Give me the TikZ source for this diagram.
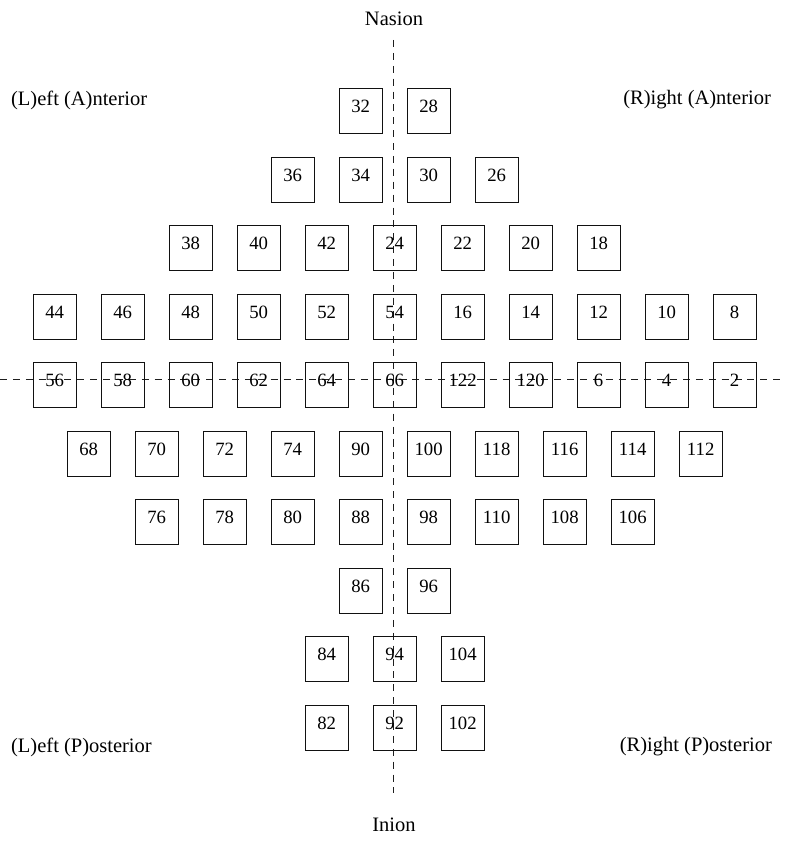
\documentclass[tikz,border=0pt]{standalone}
\usepackage{fontspec}
\setmainfont{Liberation Serif}
\usepackage{xcolor}
\usepackage{tikz}
\definecolor{EEGInk}{HTML}{111111}
\definecolor{EEGGuide}{HTML}{1E1E1E}

\begin{document}
\begin{tikzpicture}[x=1cm,y=1cm,
  elec/.style={draw=EEGInk,line width=0.9pt,minimum width=1.29cm,minimum height=1.35cm,inner sep=0pt,
    text height=10.8pt,text depth=8.5pt,font=\fontsize{16}{19}\selectfont},
  axis/.style={draw=EEGGuide,line width=0.7pt,dash pattern=on 6pt off 5pt},
  side/.style={font=\fontsize{17.5}{21}\selectfont}]
\path[use as bounding box] (0,0) rectangle (23.55,25.44);
% midline and ear line
\coordinate (nasionEnd) at (11.81,24.24);
\coordinate (inionEnd) at (11.81,1.65);
\coordinate (leftEnd) at (0,14.06);
\coordinate (rightEnd) at (23.55,14.06);
\draw[axis] (nasionEnd) -- (inionEnd);
\draw[axis] (leftEnd) -- (rightEnd);
\node[side] (nasion) at (11.82,24.87) {Nasion};
\node[side] (inion) at (11.82,0.69) {Inion};
\node[side,anchor=west] (la) at (0.21,22.44) {(L)eft (A)nterior};
\node[side,anchor=east] (ra) at (23.25,22.44) {(R)ight (A)nterior};
\node[side,anchor=west] (lp) at (0.21,3.03) {(L)eft (P)osterior};
\node[side,anchor=east] (rp) at (23.28,3.03) {(R)ight (P)osterior};
% electrodes
\node[elec] (e32) at (10.82,22.10) {32};
\node[elec] (e28) at (12.86,22.10) {28};
\node[elec] (e36) at (8.78,20.04) {36};
\node[elec] (e34) at (10.82,20.04) {34};
\node[elec] (e30) at (12.86,20.04) {30};
\node[elec] (e26) at (14.90,20.04) {26};
\node[elec] (e38) at (5.72,17.99) {38};
\node[elec] (e40) at (7.76,17.99) {40};
\node[elec] (e42) at (9.80,17.99) {42};
\node[elec] (e24) at (11.84,17.99) {24};
\node[elec] (e22) at (13.88,17.99) {22};
\node[elec] (e20) at (15.92,17.99) {20};
\node[elec] (e18) at (17.96,17.99) {18};
\node[elec] (e44) at (1.64,15.93) {44};
\node[elec] (e46) at (3.68,15.93) {46};
\node[elec] (e48) at (5.72,15.93) {48};
\node[elec] (e50) at (7.76,15.93) {50};
\node[elec] (e52) at (9.80,15.93) {52};
\node[elec] (e54) at (11.84,15.93) {54};
\node[elec] (e16) at (13.88,15.93) {16};
\node[elec] (e14) at (15.92,15.93) {14};
\node[elec] (e12) at (17.96,15.93) {12};
\node[elec] (e10) at (20.00,15.93) {10};
\node[elec] (e8) at (22.04,15.93) {8};
\node[elec] (e56) at (1.64,13.88) {56};
\node[elec] (e58) at (3.68,13.88) {58};
\node[elec] (e60) at (5.72,13.88) {60};
\node[elec] (e62) at (7.76,13.88) {62};
\node[elec] (e64) at (9.80,13.88) {64};
\node[elec] (e66) at (11.84,13.88) {66};
\node[elec] (e122) at (13.88,13.88) {122};
\node[elec] (e120) at (15.92,13.88) {120};
\node[elec] (e6) at (17.96,13.88) {6};
\node[elec] (e4) at (20.00,13.88) {4};
\node[elec] (e2) at (22.04,13.88) {2};
\node[elec] (e68) at (2.66,11.82) {68};
\node[elec] (e70) at (4.70,11.82) {70};
\node[elec] (e72) at (6.74,11.82) {72};
\node[elec] (e74) at (8.78,11.82) {74};
\node[elec] (e90) at (10.82,11.82) {90};
\node[elec] (e100) at (12.86,11.82) {100};
\node[elec] (e118) at (14.90,11.82) {118};
\node[elec] (e116) at (16.94,11.82) {116};
\node[elec] (e114) at (18.98,11.82) {114};
\node[elec] (e112) at (21.02,11.82) {112};
\node[elec] (e76) at (4.70,9.77) {76};
\node[elec] (e78) at (6.74,9.77) {78};
\node[elec] (e80) at (8.78,9.77) {80};
\node[elec] (e88) at (10.82,9.77) {88};
\node[elec] (e98) at (12.86,9.77) {98};
\node[elec] (e110) at (14.90,9.77) {110};
\node[elec] (e108) at (16.94,9.77) {108};
\node[elec] (e106) at (18.98,9.77) {106};
\node[elec] (e86) at (10.82,7.71) {86};
\node[elec] (e96) at (12.86,7.71) {96};
\node[elec] (e84) at (9.80,5.66) {84};
\node[elec] (e94) at (11.84,5.66) {94};
\node[elec] (e104) at (13.88,5.66) {104};
\node[elec] (e82) at (9.80,3.60) {82};
\node[elec] (e92) at (11.84,3.60) {92};
\node[elec] (e102) at (13.88,3.60) {102};
\end{tikzpicture}
\end{document}
